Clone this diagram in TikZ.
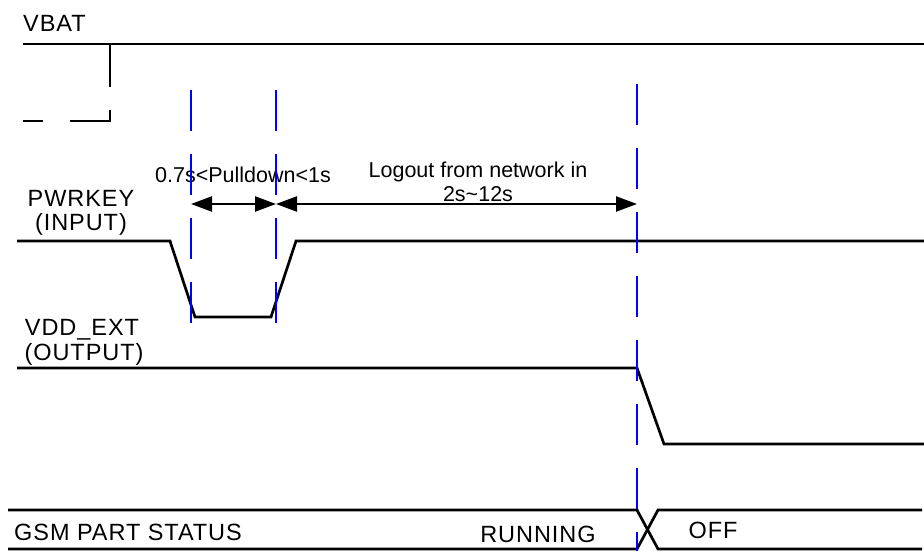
\documentclass[tikz,border=0pt]{standalone}
\usepackage{fontspec}
\setmainfont{Liberation Sans}
\newfontfamily\lblfont[LetterSpace=4]{Liberation Sans}
\usepackage{tikz}
\usetikzlibrary{arrows.meta}
\newcommand{\sigfont}{\lblfont\fontsize{23.5}{25}\selectfont}
\newcommand{\notefont}{\fontsize{21.5}{24}\selectfont}
\newcommand{\signode}{\node[anchor=base,inner sep=0pt,font=\sigfont]}
\newcommand{\notenode}{\node[anchor=base,inner sep=0pt,font=\notefont]}
\tikzset{
  wave/.style={line width=2.7pt,line join=miter},
  marker/.style={blue,line width=2.4pt,dash pattern=on 41pt off 23pt},
  span/.style={line width=2.4pt,{Triangle[length=21pt,width=15pt]}-{Triangle[length=21pt,width=15pt]}}
}

\begin{document}
\begin{tikzpicture}[x=1pt,y=-1pt]
      \useasboundingbox (0,0) rectangle (924,551);
      \signode[anchor=base west] (vbat) at (23,32) {VBAT}; %
      \signode (pwrkey) at (81,206) {PWRKEY}; %
      \signode (pwrin) at (81,230) {(INPUT)};
      \signode (vddext) at (82,335) {VDD\_EXT}; %
      \signode (vddout) at (84,360) {(OUTPUT)};
      \signode[anchor=base west] (gsm) at (14,540) {GSM PART STATUS}; %
      \signode (running) at (538,542) {RUNNING};
      \signode (off) at (713,538) {OFF};
      \notenode (pulldown) at (243,182) {0.7s<Pulldown<1s}; %
      \notenode (logout) at (478,177) {Logout from network in};
      \notenode (logtime) at (478,201) {2s\textasciitilde 12s};
      % signals
      \draw[wave] (23,44) -- (924,44);
      \draw[wave,dash pattern=on 43pt off 23pt on 51pt off 27pt on 20pt off 100pt]
        (110,44) -- (110,121) -- (23,121);
      \draw[wave] (17,241) -- (170,241) -- (195,317) -- (271,317) -- (296,241) -- (924,241);
      \draw[wave] (17,368) -- (637,368) -- (664,444) -- (924,444);
      \draw[wave] (8,510) -- (637,510) -- (658,549) -- (922,549);
      \draw[wave] (8,549) -- (637,549) -- (658,510) -- (922,510);
      % timing marks
      \coordinate (t1) at (191,204);
      \coordinate (t2) at (276,204);
      \coordinate (t3) at (637,204);
      \draw[span] (t1) -- (t2);
      \draw[span] (t2) -- (t3);
      \draw[marker] (191,90) -- (191,323);
      \draw[marker] (276,90) -- (276,323);
      \draw[marker] (637,84) -- (637,573);
\end{tikzpicture}
\end{document}
